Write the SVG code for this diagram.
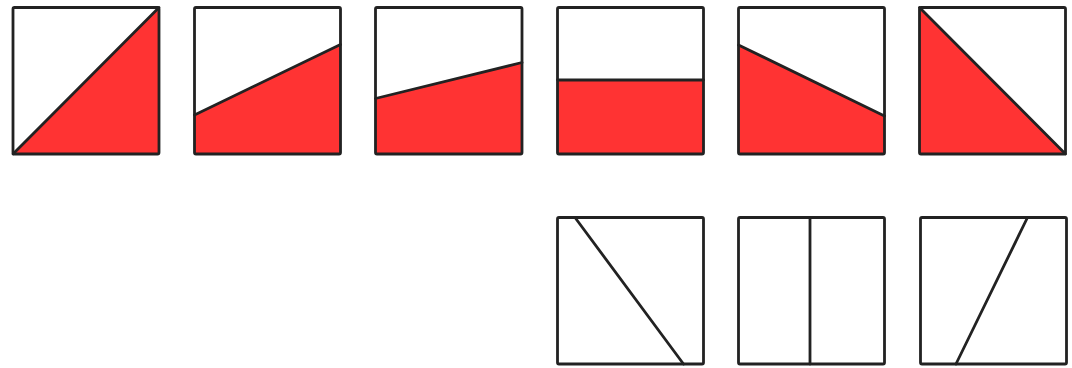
<svg xmlns="http://www.w3.org/2000/svg" width="1072" height="368" viewBox="0 0 1072 368">
<style>
.box{fill:none;stroke:#222222;stroke-width:2.8;stroke-linejoin:round}
.fill{fill:#ff3333;stroke:none}
.ln{stroke:#222222;stroke-width:2.8;stroke-linecap:round;fill:none}
</style>
<rect width="1072" height="368" fill="#ffffff"/>
<g id="box1">
<polygon class="fill" points="13,154 159,7.5 159,154"/>
<line class="ln" x1="13" y1="154" x2="159" y2="7.5"/>
<rect class="box" x="13" y="7.5" width="146" height="146.5" rx="1.5"/>
</g>
<g id="box2">
<polygon class="fill" points="194.5,115 340.5,44.5 340.5,154 194.5,154"/>
<line class="ln" x1="194.5" y1="115" x2="340.5" y2="44.5"/>
<rect class="box" x="194.5" y="7.5" width="146" height="146.5" rx="1.5"/>
</g>
<g id="box3">
<polygon class="fill" points="375.5,98.5 522,62.5 522,154 375.5,154"/>
<line class="ln" x1="375.5" y1="98.5" x2="522" y2="62.5"/>
<rect class="box" x="375.5" y="7.5" width="146.5" height="146.5" rx="1.5"/>
</g>
<g id="box4">
<polygon class="fill" points="557.5,80 703.5,80 703.5,154 557.5,154"/>
<line class="ln" x1="557.5" y1="80" x2="703.5" y2="80"/>
<rect class="box" x="557.5" y="7.5" width="146" height="146.5" rx="1.5"/>
</g>
<g id="box5">
<polygon class="fill" points="738.5,45 884.5,116 884.5,154 738.5,154"/>
<line class="ln" x1="738.5" y1="45" x2="884.5" y2="116"/>
<rect class="box" x="738.5" y="7.5" width="146" height="146.5" rx="1.5"/>
</g>
<g id="box6">
<polygon class="fill" points="919.5,7.5 1065.5,154 919.5,154"/>
<line class="ln" x1="919.5" y1="7.5" x2="1065.5" y2="154"/>
<rect class="box" x="919.5" y="7.5" width="146" height="146.5" rx="1.5"/>
</g>
<g id="box7">
<line class="ln" x1="575" y1="217.5" x2="683.5" y2="364"/>
<rect class="box" x="557.5" y="217.5" width="146" height="146.5" rx="1.5"/>
</g>
<g id="box8">
<line class="ln" x1="810" y1="217.5" x2="810" y2="364"/>
<rect class="box" x="738.5" y="217.5" width="146" height="146.5" rx="1.5"/>
</g>
<g id="box9">
<line class="ln" x1="1027.5" y1="217.5" x2="956" y2="364"/>
<rect class="box" x="920.5" y="217.5" width="146" height="146.5" rx="1.5"/>
</g>
<g id="connectors"></g>
</svg>
